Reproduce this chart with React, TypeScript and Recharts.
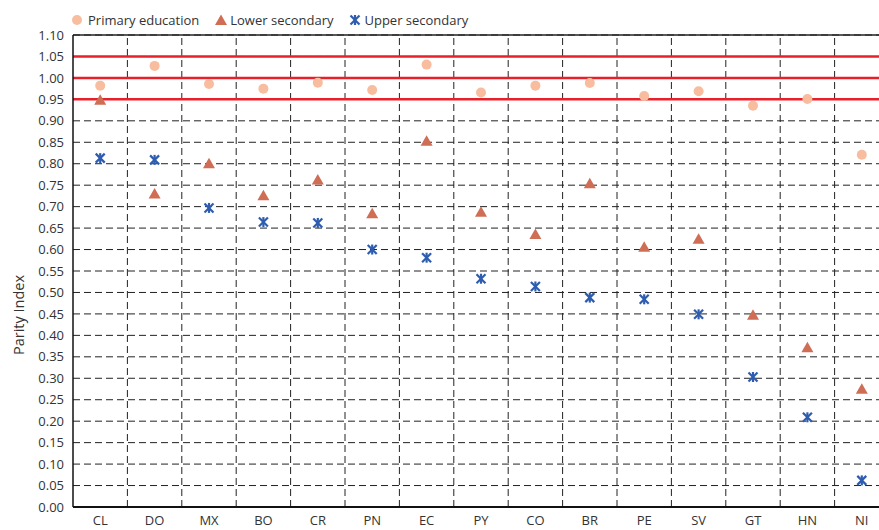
import React from "react";
import {
  ScatterChart,
  Scatter,
  XAxis,
  YAxis,
  CartesianGrid,
  ReferenceLine,
} from "recharts";

const countries = ["CL", "DO", "MX", "BO", "CR", "PN", "EC", "PY", "CO", "BR", "PE", "SV", "GT", "HN", "NI"];
const primary = [0.982, 1.028, 0.986, 0.975, 0.989, 0.972, 1.031, 0.966, 0.982, 0.988, 0.958, 0.969, 0.935, 0.951, 0.821];
const lowerSecondary = [0.947, 0.728, 0.799, 0.724, 0.761, 0.682, 0.851, 0.686, 0.634, 0.752, 0.604, 0.623, 0.446, 0.37, 0.273];
const upperSecondary = [0.813, 0.809, 0.697, 0.664, 0.662, 0.6, 0.581, 0.532, 0.514, 0.488, 0.484, 0.449, 0.303, 0.209, 0.062];

const yTicks = [0, 0.05, 0.1, 0.15, 0.2, 0.25, 0.3, 0.35, 0.4, 0.45, 0.5, 0.55, 0.6, 0.65, 0.7, 0.75, 0.8, 0.85, 0.9, 0.95, 1.0, 1.05, 1.1];
const parityLines = [0.95, 1.0, 1.05];

const PEACH = "#F8BD9E";
const TERRA = "#CF6E55";
const BLUE = "#2E5DAF";
const FONT = "'Open Sans', 'Noto Sans', sans-serif";

const xTicks = countries.map((_, i) => i + 0.5);
const boundaries = countries.map((_, i) => i + 1);

const toPoints = (vals: number[]) => vals.map((y, i) => ({ x: i + 0.5, y }));

const DotShape = (p: any) => <circle cx={p.cx} cy={p.cy} r={5} fill={PEACH} />;

const TriShape = (p: any) => {
  const { cx, cy } = p;
  return (
    <polygon
      points={`${cx},${cy - 6.5} ${cx + 6},${cy + 4} ${cx - 6},${cy + 4}`}
      fill={TERRA}
    />
  );
};

// excel-style star marker: an X crossed by a vertical stroke
const StarShape = (p: any) => {
  const { cx, cy } = p;
  const s = 4.5;
  return (
    <g stroke={BLUE} strokeWidth={2.2}>
      <line x1={cx - s} y1={cy - s} x2={cx + s} y2={cy + s} />
      <line x1={cx - s} y1={cy + s} x2={cx + s} y2={cy - s} />
      <line x1={cx} y1={cy - s - 0.5} x2={cx} y2={cy + s + 0.5} />
    </g>
  );
};

function LegendRow() {
  const item: React.CSSProperties = { display: "flex", alignItems: "center", marginRight: 16 };
  return (
    <div
      style={{
        position: "absolute",
        left: 71,
        top: 11,
        display: "flex",
        fontFamily: FONT,
        fontSize: 13,
        color: "#333",
        lineHeight: "18px",
      }}
    >
      <div style={item}>
        <svg width={12} height={12} style={{ marginRight: 5 }}>
          <circle cx={6} cy={6} r={5} fill={PEACH} />
        </svg>
        Primary education
      </div>
      <div style={item}>
        <svg width={12} height={12} style={{ marginRight: 3 }}>
          <polygon points="6,0.5 12,11 0,11" fill={TERRA} />
        </svg>
        Lower secondary
      </div>
      <div style={item}>
        <svg width={12} height={12} style={{ marginRight: 3 }}>
          <StarShape cx={6} cy={6} />
        </svg>
        Upper secondary
      </div>
    </div>
  );
}

export default function App() {
  return (
    <div
      style={{
        position: "fixed",
        left: 0,
        top: 0,
        width: 879,
        height: 530,
        overflow: "hidden",
        background: "#fff",
      }}
    >
      <LegendRow />
      <div
        style={{
          position: "absolute",
          left: 18,
          top: 315,
          transform: "translate(-50%, -50%) rotate(-90deg)",
          fontFamily: FONT,
          fontSize: 14.5,
          color: "#333",
          whiteSpace: "nowrap",
        }}
      >
        Parity Index
      </div>
      <ScatterChart
        width={900}
        height={530}
        margin={{ top: 35, right: 11, bottom: 0, left: 0 }}
        style={{ position: "absolute", left: 0, top: 0 }}
      >
        <CartesianGrid
          vertical={false}
          stroke="#222"
          strokeDasharray="7 4"
        />
        <XAxis
          type="number"
          dataKey="x"
          domain={[0, 15]}
          ticks={xTicks}
          tickFormatter={(v: number) => countries[Math.floor(v)]}
          tickLine={false}
          tickMargin={3}
          height={23}
          axisLine={{ stroke: "#111", strokeWidth: 2 }}
          tick={{ fill: "#333", fontSize: 13, fontFamily: FONT }}
          interval={0}
        />
        <YAxis
          type="number"
          dataKey="y"
          domain={[0, 1.1]}
          ticks={yTicks}
          tickFormatter={(v: number) => v.toFixed(2)}
          width={73}
          tickLine={false}
          tickMargin={3}
          axisLine={{ stroke: "#111", strokeWidth: 1.5 }}
          tick={{ fill: "#333", fontSize: 13, fontFamily: FONT }}
          interval={0}
        />
        {boundaries.map((b) => (
          <ReferenceLine key={b} x={b} stroke="#222" strokeDasharray="7 4" />
        ))}
        <ReferenceLine y={1.1} stroke="#222" strokeWidth={1.5} />
        {parityLines.map((v) => (
          <ReferenceLine key={v} y={v} stroke="#E8202A" strokeWidth={2.5} />
        ))}
        <Scatter
          name="Primary education"
          data={toPoints(primary)}
          shape={DotShape}
          isAnimationActive={false}
        />
        <Scatter
          name="Lower secondary"
          data={toPoints(lowerSecondary)}
          shape={TriShape}
          isAnimationActive={false}
        />
        <Scatter
          name="Upper secondary"
          data={toPoints(upperSecondary)}
          shape={StarShape}
          isAnimationActive={false}
        />
      </ScatterChart>
    </div>
  );
}
